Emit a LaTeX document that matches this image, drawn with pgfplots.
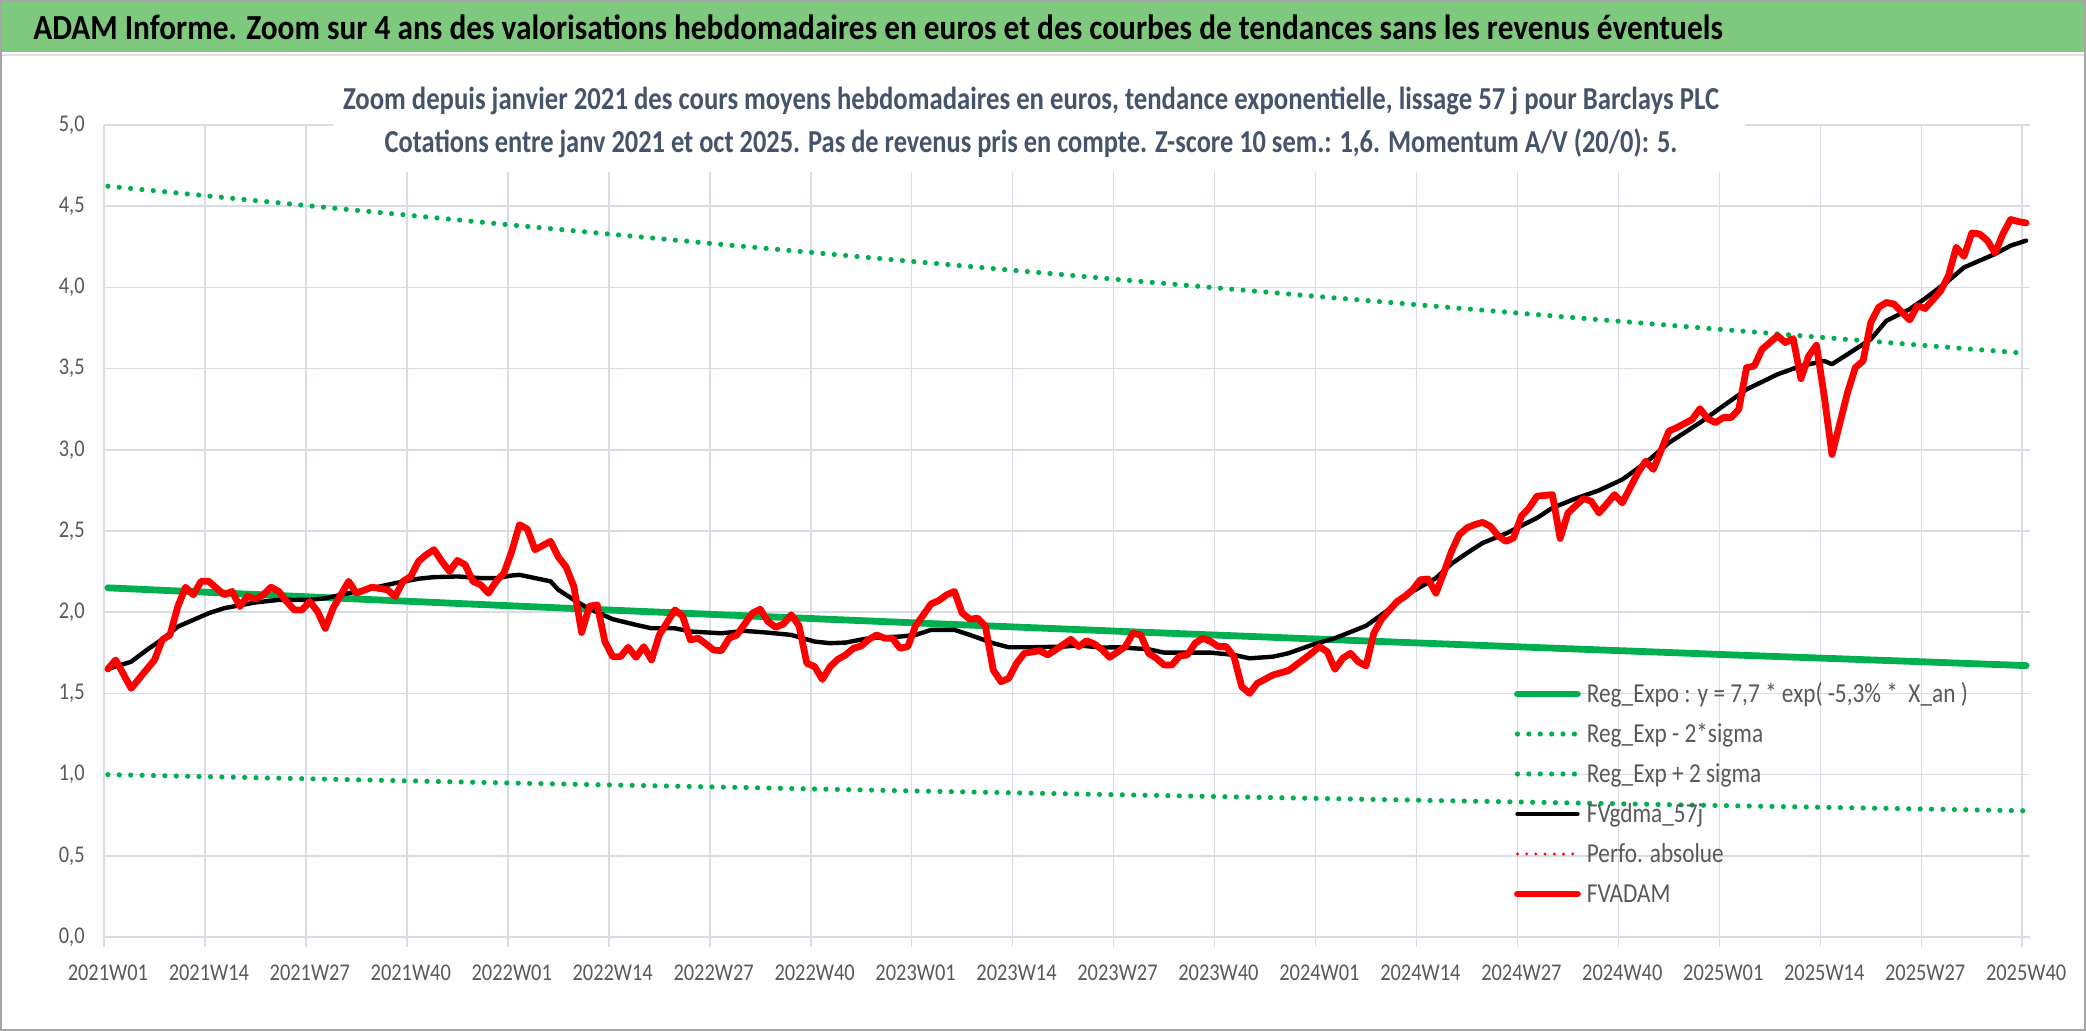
\documentclass[border=0pt]{standalone}
\usepackage{fontspec}
\setmainfont{Carlito}[FakeStretch=0.85]
\newfontfamily\titlefont{Carlito}[FakeStretch=0.89]
\newfontfamily\subfonta{Carlito}[FakeStretch=0.835]
\newfontfamily\subfontb{Carlito}[FakeStretch=0.825]
\usepackage{pgfplots}
\pgfplotsset{compat=1.18}
\definecolor{titlegreen}{RGB}{127,201,127}
\definecolor{regc}{RGB}{0,176,80}
\definecolor{gridc}{RGB}{217,220,226}
\definecolor{subc}{RGB}{68,84,106}
\definecolor{tickc}{RGB}{89,89,89}
\begin{document}
\begin{tikzpicture}
\useasboundingbox (0pt,0pt) rectangle (1043pt,515.5pt);
\fill[white] (0pt,0pt) rectangle (1043pt,515.5pt);
\fill[titlegreen] (0pt,489.5pt) rectangle (1043pt,515.5pt);
\draw[gray!25, line width=1.2pt] (0pt,488pt) -- (1043pt,488pt);
\node[anchor=base west, inner sep=0pt, font=\titlefont\bfseries\fontsize{17.6}{20}\selectfont] at (16.5pt,495.5pt)
 {ADAM Informe. Zoom sur 4 ans des valorisations hebdomadaires en euros et des courbes de tendances sans les revenus éventuels};
\begin{axis}[
  at={(52pt,47pt)}, anchor=south west, scale only axis,
  width=963pt, height=406pt,
  xmin=-0.5, xmax=247.5, ymin=0, ymax=5,
  clip=false,
  axis line style={draw=none},
  xtick={0,13,...,247},
  xticklabels={2021W01,2021W14,2021W27,2021W40,2022W01,2022W14,2022W27,2022W40,2023W01,2023W14,2023W27,2023W40,2024W01,2024W14,2024W27,2024W40,2025W01,2025W14,2025W27,2025W40},
  minor xtick={-0.5,12.5,...,247},
  ytick={0,0.5,...,5},
  xminorgrids=true, ymajorgrids=true,
  major grid style={gridc, line width=0.8pt},
  minor grid style={gridc, line width=0.8pt},
  major x tick style={draw=none},
  ytick style={draw=none},
  minor x tick style={draw=gridc, line width=0.8pt},
  tick align=outside,
  major tick length=0pt, minor tick length=5pt,
  xtick pos=lower, ytick pos=left,
  /pgf/number format/.cd, use comma, fixed, fixed zerofill, precision=1, assume math mode=true,
  /pgfplots/.cd,
  yticklabel style={font=\fontsize{12}{14}\selectfont, text=tickc, anchor=east, inner sep=0pt, xshift=-9.5pt},
  xticklabel style={font=\fontsize{12}{14}\selectfont, text=tickc, anchor=north, inner sep=0pt, yshift=-14pt},
  legend cell align=left,
  legend image code/.code={\draw[#1] (0pt,0pt) -- (30pt,0pt);},
  legend style={at={(0.7321,0.3239)}, anchor=north west, draw=none, fill=none,
    inner sep=0pt, outer sep=0pt, row sep=0pt,
    font=\fontsize{13.7}{16}\selectfont, text=tickc,
    nodes={inner sep=0pt, text height=14.4pt, text depth=5.6pt},
    /tikz/every odd column/.append style={column sep=3pt}},
]
% Reg_Expo
\addplot[regc, line width=3.4pt, line cap=round] coordinates {
(0,2.150) (26,2.094) (52,2.039) (78,1.986) (104,1.934) (130,1.883) (156,1.834) (182,1.786) (208,1.739) (234,1.694) (247,1.671)};
\addlegendentry{Reg\_Expo : y = 7,7 * exp( -5,3\% *\ \ X\_an )}
% lower band
\addplot[regc, line width=2.6pt, line cap=round, dash pattern=on 0pt off 5.7pt] coordinates {
(0,1.000) (26,0.974) (52,0.948) (78,0.924) (104,0.899) (130,0.876) (156,0.853) (182,0.831) (208,0.809) (234,0.788) (247,0.777)};
\addlegendentry{Reg\_Exp - 2*sigma}
% upper band
\addplot[regc, line width=2.6pt, line cap=round, dash pattern=on 0pt off 5.7pt] coordinates {
(0,4.623) (26,4.502) (52,4.384) (78,4.269) (104,4.158) (130,4.049) (156,3.943) (182,3.840) (208,3.740) (234,3.642) (247,3.594)};
\addlegendentry{Reg\_Exp + 2 sigma}
% FVgdma_57j
\addplot[black, line width=2.2pt, line join=round, line cap=round] coordinates {
(0,1.65) (3,1.695) (5,1.767) (7,1.833) (9,1.911) (13,1.994) (15,2.025) (19,2.06) (22,2.076) (26,2.076) (28,2.086) (31,2.117) (34,2.148) (37,2.179) (40,2.206) (42,2.216) (45,2.22) (48,2.21) (50,2.21) (52,2.226) (53,2.23) (55,2.21) (57,2.19) (58,2.138) (60,2.076) (62,2.02) (65,1.957) (68,1.922) (70,1.901) (73,1.901) (75,1.881) (79,1.87) (82,1.885) (85,1.874) (88,1.86) (91,1.819) (93,1.809) (95,1.813) (98,1.84) (102,1.85) (104,1.86) (106,1.891) (109,1.891) (111,1.86) (114,1.809) (116,1.784) (119,1.784) (123,1.788) (125,1.795) (128,1.782) (130,1.784) (134,1.772) (136,1.751) (142,1.751) (145,1.737) (147,1.716) (150,1.726) (152,1.747) (155,1.798) (158,1.84) (162,1.916) (164,1.984) (166,2.056) (168,2.128) (171,2.21) (173,2.298) (175,2.364) (177,2.426) (180,2.484) (184,2.58) (186,2.642) (189,2.70) (192,2.75) (195,2.817) (198,2.92) (201,3.043) (205,3.167) (208,3.27) (211,3.372) (215,3.465) (218,3.516) (221,3.547) (222,3.527) (224,3.588) (227,3.681) (229,3.794) (232,3.866) (234,3.932) (237,4.041) (239,4.123) (243,4.206) (245,4.257) (247,4.288)};
\addlegendentry{FVgdma\_57j}
\addlegendimage{red, line width=1.6pt, line cap=round, dash pattern=on 0pt off 4.6pt}
\addlegendentry{Perfo. absolue}
% FVADAM
\addplot[red, line width=3.4pt, line join=round, line cap=round] coordinates {
(0,1.65) (1,1.706) (3,1.531) (6,1.706) (7,1.83) (8,1.86) (9,2.035) (10,2.154) (11,2.107) (12,2.19) (13,2.19) (14,2.148) (15,2.107) (16,2.128) (17,2.035) (18,2.10) (19,2.08) (20,2.107) (21,2.154) (22,2.128) (23,2.066) (24,2.014) (25,2.014) (26,2.066) (27,2.004) (28,1.90) (29,2.025) (31,2.19) (32,2.117) (34,2.154) (36,2.138) (37,2.097) (38,2.19) (39,2.22) (40,2.313) (41,2.354) (42,2.385) (43,2.313) (44,2.251) (45,2.319) (46,2.292) (47,2.19) (48,2.169) (49,2.117) (50,2.19) (51,2.241) (52,2.374) (53,2.539) (54,2.512) (55,2.385) (57,2.436) (58,2.34) (59,2.278) (60,2.158) (61,1.875) (62,2.037) (63,2.045) (64,1.819) (65,1.726) (66,1.726) (67,1.784) (68,1.722) (69,1.788) (70,1.706) (71,1.86) (73,2.014) (74,1.977) (75,1.829) (76,1.84) (77,1.805) (78,1.767) (79,1.763) (80,1.84) (81,1.86) (82,1.928) (83,1.994) (84,2.018) (85,1.942) (86,1.907) (87,1.928) (88,1.984) (89,1.916) (90,1.685) (91,1.665) (92,1.586) (93,1.665) (94,1.71) (95,1.737) (96,1.778) (97,1.792) (98,1.833) (99,1.86) (100,1.84) (101,1.84) (102,1.778) (103,1.788) (104,1.916) (106,2.051) (107,2.072) (108,2.107) (109,2.128) (110,1.994) (111,1.957) (112,1.963) (113,1.912) (114,1.644) (115,1.572) (116,1.593) (117,1.685) (118,1.747) (120,1.763) (121,1.737) (122,1.767) (124,1.833) (125,1.788) (126,1.824) (127,1.805) (128,1.77) (129,1.722) (131,1.788) (132,1.870) (133,1.86) (134,1.747) (135,1.716) (136,1.675) (137,1.675) (138,1.73) (139,1.737) (140,1.809) (141,1.84) (142,1.819) (143,1.788) (144,1.788) (145,1.726) (146,1.541) (147,1.50) (148,1.562) (150,1.613) (152,1.64) (153,1.675) (155,1.747) (156,1.788) (157,1.757) (158,1.648) (159,1.716) (160,1.747) (161,1.695) (162,1.669) (163,1.870) (164,1.957) (166,2.066) (167,2.097) (168,2.138) (169,2.2) (170,2.204) (171,2.117) (172,2.241) (173,2.374) (174,2.477) (175,2.519) (176,2.539) (177,2.553) (178,2.529) (179,2.471) (180,2.436) (181,2.457) (182,2.591) (183,2.642) (184,2.714) (186,2.724) (187,2.454) (188,2.611) (190,2.70) (191,2.683) (192,2.611) (194,2.724) (195,2.673) (197,2.858) (198,2.93) (199,2.879) (201,3.115) (202,3.136) (204,3.187) (205,3.253) (206,3.191) (207,3.167) (208,3.198) (209,3.198) (210,3.249) (211,3.506) (212,3.516) (213,3.619) (215,3.702) (216,3.66) (217,3.685) (218,3.438) (219,3.578) (220,3.644) (221,3.331) (222,2.971) (224,3.352) (225,3.506) (226,3.547) (227,3.784) (228,3.877) (229,3.907) (230,3.897) (231,3.846) (232,3.80) (233,3.887) (234,3.87) (236,3.979) (237,4.072) (238,4.247) (239,4.191) (240,4.335) (241,4.329) (242,4.288) (243,4.212) (244,4.329) (245,4.418) (246,4.405) (247,4.397)};
\addlegendentry{FVADAM}
\end{axis}
\fill[white] (166.5pt,429.5pt) rectangle (872.5pt,480.5pt);
\node[anchor=base, inner sep=0pt, text=subc, font=\subfonta\bfseries\fontsize{16}{18}\selectfont] at (515.5pt,460.5pt)
 {Zoom depuis janvier 2021 des cours moyens hebdomadaires en euros, tendance exponentielle, lissage 57 j pour Barclays PLC};
\node[anchor=base, inner sep=0pt, text=subc, font=\subfontb\bfseries\fontsize{16}{18}\selectfont] at (515.5pt,439pt)
 {Cotations entre janv 2021 et oct 2025. Pas de revenus pris en compte. Z-score 10 sem.: 1,6. Momentum A/V (20/0): 5.};
\draw[gray!70, line width=0.8pt] (0.4pt,0.4pt) rectangle (1042.6pt,515.1pt);
\end{tikzpicture}
\end{document}
